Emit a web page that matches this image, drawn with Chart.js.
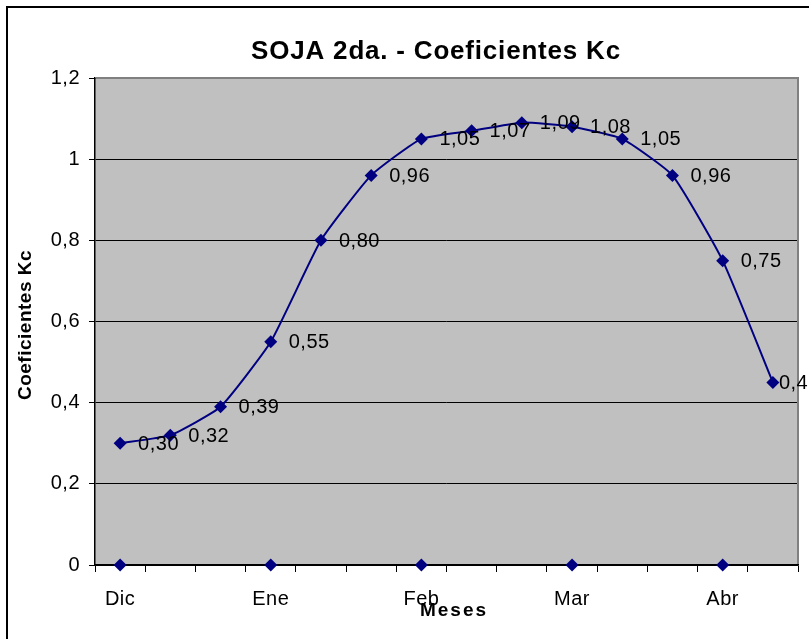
<!DOCTYPE html>
<html>
<head>
<meta charset="utf-8">
<script src="https://cdn.jsdelivr.net/npm/chart.js@4.4.1/dist/chart.umd.min.js"></script>
<style>
  html, body { margin: 0; padding: 0; background: #fff; overflow: hidden; }
  #frame { position: absolute; left: 6px; top: 6px; width: 900px; height: 900px; border: 2px solid #000; }
  #wrap { position: absolute; left: 0; top: 0; width: 809px; height: 639px; }
</style>
</head>
<body>
<div id="frame"></div>
<div id="wrap"><canvas id="kcChart" width="809" height="639"></canvas></div>
<script>
// chart data
const chartTitle = 'SOJA 2da. - Coeficientes Kc';
const yTitle = 'Coeficientes Kc';
const xTitle = 'Meses';
const monthLabels = ['Dic', '', '', 'Ene', '', '', 'Feb', '', '', 'Mar', '', '', 'Abr', ''];
const kcValues = [0.30, 0.32, 0.39, 0.55, 0.80, 0.96, 1.05, 1.07, 1.09, 1.08, 1.05, 0.96, 0.75, 0.45];
const monthMarks = [0, null, null, 0, null, null, 0, null, null, 0, null, null, 0, null];
const yTickLabels = ['0', '0,2', '0,4', '0,6', '0,8', '1', '1,2'];

const NAVY = '#000080';
const FONT = '"Liberation Sans", Arial, sans-serif';

// gray plot area + frame
const plotBackground = {
    id: 'plotBackground',
    beforeDraw(chart) {
        const { ctx, chartArea: a } = chart;
        ctx.letterSpacing = '0.5px';
        ctx.save();
        ctx.fillStyle = '#C0C0C0';
        ctx.fillRect(a.left, a.top, a.right - a.left, a.bottom - a.top);
        ctx.restore();
    },
    beforeDatasetsDraw(chart) {
        const { ctx, chartArea: a } = chart;
        ctx.save();
        ctx.strokeStyle = '#808080';
        ctx.lineWidth = 2;
        ctx.beginPath();
        ctx.moveTo(a.left + 1, a.top);
        ctx.lineTo(a.right, a.top);
        ctx.lineTo(a.right, a.bottom - 1);
        ctx.stroke();
        ctx.restore();
    }
};

// value labels to the right of each point
const valueLabels = {
    id: 'valueLabels',
    afterDatasetsDraw(chart) {
        const { ctx, chartArea: a } = chart;
        const meta = chart.getDatasetMeta(0);
        ctx.save();
        ctx.font = '20px ' + FONT;
        ctx.letterSpacing = '0.5px';
        ctx.fillStyle = '#000';
        ctx.textAlign = 'left';
        ctx.textBaseline = 'middle';
        meta.data.forEach((pt, i) => {
            const txt = kcValues[i].toFixed(2).replace('.', ',');
            const w = ctx.measureText(txt).width;
            const x = pt.x + 18 + w > a.right ? pt.x + 6 : pt.x + 18;
            ctx.fillText(txt, x, pt.y + 1);
        });
        ctx.restore();
    }
};

// titles
const titles = {
    id: 'titles',
    afterDraw(chart) {
        const { ctx } = chart;
        ctx.save();
        ctx.fillStyle = '#000';
        ctx.textAlign = 'center';
        ctx.textBaseline = 'middle';

        ctx.font = 'bold 26px ' + FONT;
        ctx.letterSpacing = '0.8px';
        ctx.fillText(chartTitle, 436, 52);

        ctx.font = 'bold 19px ' + FONT;
        ctx.letterSpacing = '2px';
        ctx.fillText(xTitle, 454, 611);

        ctx.letterSpacing = '0.5px';
        ctx.translate(26, 325);
        ctx.rotate(-Math.PI / 2);
        ctx.fillText(yTitle, 0, 0);
        ctx.restore();
    }
};

new Chart(document.getElementById('kcChart'), {
    type: 'line',
    data: {
        labels: monthLabels,
        datasets: [
            {
                data: kcValues,
                borderColor: NAVY,
                backgroundColor: NAVY,
                borderWidth: 2,
                tension: 0.15,
                pointStyle: 'rectRot',
                pointRadius: 6.5,
                pointBorderWidth: 0,
                pointBackgroundColor: NAVY
            },
            {
                data: monthMarks,
                showLine: false,
                pointStyle: 'rectRot',
                pointRadius: 6.5,
                pointBorderWidth: 0,
                pointBackgroundColor: NAVY,
                clip: false
            }
        ]
    },
    options: {
        responsive: false,
        animation: false,
        devicePixelRatio: 1,
        layout: { padding: { left: 0, right: 11, top: 78, bottom: 0 } },
        plugins: {
            legend: { display: false },
            tooltip: { enabled: false },
            title: { display: false }
        },
        scales: {
            x: {
                offset: true,
                grid: {
                    offset: true,
                    drawOnChartArea: false,
                    color: '#000',
                    tickLength: 7,
                    tickColor: '#000'
                },
                border: { color: '#000', width: 1.5 },
                ticks: {
                    autoSkip: false,
                    maxRotation: 0,
                    minRotation: 0,
                    padding: 15,
                    color: '#000',
                    font: { family: FONT, size: 20 }
                },
                afterFit(scale) { scale.height = 74; }
            },
            y: {
                min: 0,
                max: 1.2,
                grid: {
                    color: '#000',
                    tickLength: 6,
                    tickColor: '#000'
                },
                border: { color: '#000', width: 1.5 },
                ticks: {
                    stepSize: 0.2,
                    padding: 9,
                    color: '#000',
                    font: { family: FONT, size: 20 },
                    callback: (v, i) => yTickLabels[i]
                },
                afterFit(scale) { scale.width = 95; }
            }
        }
    },
    plugins: [plotBackground, valueLabels, titles]
});
</script>
</body>
</html>
